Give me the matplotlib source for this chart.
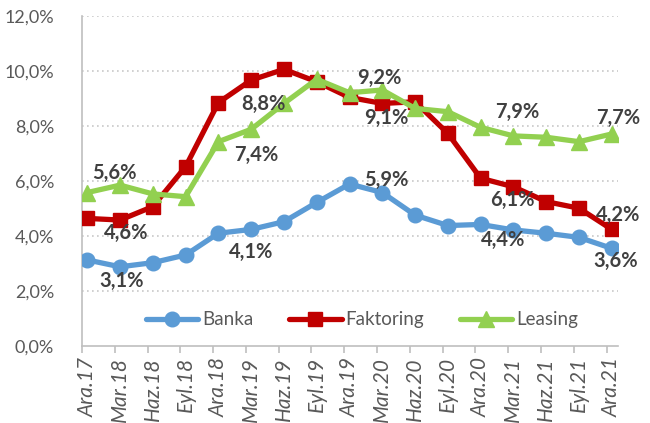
import numpy as np
import matplotlib
matplotlib.use("Agg")
import matplotlib.pyplot as plt

# %%
periods = ["Ara.17", "Mar.18", "Haz.18", "Eyl.18", "Ara.18", "Mar.19", "Haz.19", "Eyl.19",
           "Ara.19", "Mar.20", "Haz.20", "Eyl.20", "Ara.20", "Mar.21", "Haz.21", "Eyl.21", "Ara.21"]
banka = [3.13, 2.88, 3.03, 3.31, 4.10, 4.24, 4.52, 5.22, 5.89, 5.58, 4.76, 4.38, 4.42, 4.22, 4.10, 3.95, 3.55]
faktoring = [4.64, 4.58, 5.07, 6.52, 8.85, 9.67, 10.06, 9.61, 9.04, 8.82, 8.88, 7.73, 6.10, 5.79, 5.25, 5.01, 4.24]
leasing = [5.58, 5.85, 5.53, 5.43, 7.43, 7.88, 8.82, 9.70, 9.21, 9.31, 8.64, 8.52, 7.95, 7.64, 7.59, 7.43, 7.71]

# data labels shown on the chart (index of point, text)
label_idx = [1, 5, 9, 13, 16]
banka_labels = ["3,1%", "4,1%", "5,9%", "4,4%", "3,6%"]
faktoring_labels = ["4,6%", "8,8%", "9,1%", "6,1%", "4,2%"]
leasing_labels = ["5,6%", "7,4%", "9,2%", "7,9%", "7,7%"]

# %%
plt.rcParams['font.family'] = ['Lato', 'DejaVu Sans']
fig = plt.figure(figsize=(6.5, 4.23), dpi=100)
ax = fig.add_axes([82 / 650, 1 - 346 / 423, 536 / 650, 330 / 423])

x = np.arange(len(periods))
series = [
    (banka, "Banka", "#5B9BD5", "o", 10.5, banka_labels,
     [(2, -14), (0, -23), (4, 13), (-10, -10), (4, -13)]),
    (faktoring, "Faktoring", "#C00000", "s", 10, faktoring_labels,
     [(6, -13), (12, -24), (4, -15), (-1, -13), (6, 14)]),
    (leasing, "Leasing", "#92D050", "^", 11, leasing_labels,
     [(-6, 12), (5, -26), (-3, 12), (4, 24), (6, 16)]),
]
for vals, name, color, marker, ms, texts, offs in series:
    ax.plot(x, vals, color=color, lw=3.8, marker=marker, markersize=ms,
            label=name, solid_capstyle="round", zorder=3)
    for i, t, (dx, dy) in zip(label_idx, texts, offs):
        ax.annotate(t, (x[i], vals[i]), xytext=(dx, dy), textcoords="offset pixels",
                    ha="center", va="center", fontsize=14.5, fontweight="bold",
                    color="#404040", zorder=4)

# axes
ax.set_ylim(0, 12)
ax.set_xlim(-0.16, 16.19)
ax.set_yticks(np.arange(0, 12.1, 2))
ax.set_yticklabels([f"{v:.1f}%".replace(".", ",") for v in np.arange(0, 12.1, 2)])
ax.set_xticks(x)
ax.set_xticklabels(periods, rotation=90, style="italic")
ax.set_xticks(x - 0.16, minor=True)
ax.tick_params(axis="x", which="major", length=0, pad=8, labelsize=15, labelcolor="#595959")
ax.tick_params(axis="x", which="minor", length=5, color="#BFBFBF", width=1.2)
ax.tick_params(axis="y", length=0, pad=20, labelsize=13, labelcolor="#595959")

for v in np.arange(2, 12.1, 2):
    ax.axhline(v, color="#C8C8C8", lw=1.2, ls=(0, (1, 2)), zorder=1)
for s in ["top", "right"]:
    ax.spines[s].set_visible(False)
ax.spines["left"].set_color("#BFBFBF")
ax.spines["bottom"].set_color("#BFBFBF")
ax.spines["left"].set_linewidth(1.2)
ax.spines["bottom"].set_linewidth(1.2)

ax.legend(loc="center", bbox_to_anchor=(0.522, 0.079), ncol=3, frameon=False,
          fontsize=13.5, labelcolor="#595959", handlelength=2.8, handletextpad=0.2,
          columnspacing=1.9, borderpad=0)

fig.savefig("out.png", dpi=100)
